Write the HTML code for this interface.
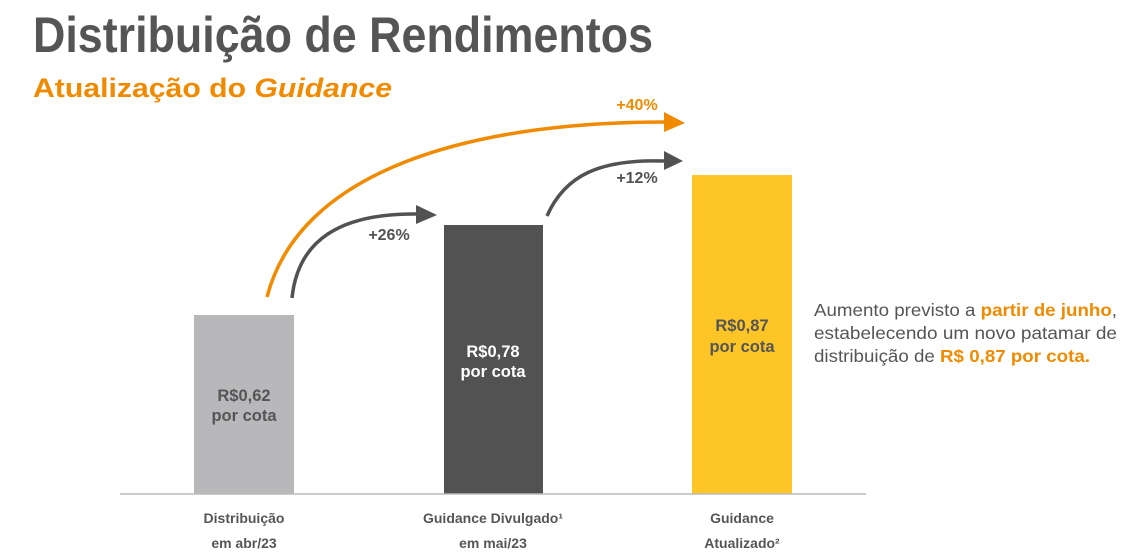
<!DOCTYPE html>
<html><head><meta charset="utf-8"><style>
html,body{margin:0;padding:0;background:#fff;width:1127px;height:560px;overflow:hidden}
svg{display:block;font-family:"Liberation Sans",Arial,sans-serif}
</style></head><body>
<svg width="1127" height="560" viewBox="0 0 1127 560">
<text x="33" y="52" font-size="50" font-weight="bold" fill="#555" textLength="620" lengthAdjust="spacingAndGlyphs">Distribuição de Rendimentos</text>
<text x="33" y="97" font-size="27" font-weight="bold" fill="#f08a00" textLength="359" lengthAdjust="spacingAndGlyphs">Atualização do <tspan font-style="italic">Guidance</tspan></text>
<rect x="194" y="315" width="100" height="179" fill="#b8b8bb"/>
<rect x="444" y="225" width="99" height="269" fill="#525252"/>
<rect x="692" y="175" width="100" height="319" fill="#fec526"/>
<line x1="120" y1="494" x2="866" y2="494" stroke="#bbb" stroke-width="1.5"/>
<g font-size="16.5" font-weight="bold" text-anchor="middle">
<text x="244" y="401" fill="#555">R$0,62</text>
<text x="244" y="421" fill="#555">por cota</text>
<text x="493" y="357" fill="#fff">R$0,78</text>
<text x="493" y="377" fill="#fff">por cota</text>
<text x="742" y="331" fill="#555">R$0,87</text>
<text x="742" y="352" fill="#555">por cota</text>
</g>
<path d="M267,297 C300,170 470,122 665,122" fill="none" stroke="#f08a00" stroke-width="3.5"/>
<polygon points="664,112 685,123 664,132" fill="#f08a00"/>
<path d="M292,298 C298,240 340,213 418,214" fill="none" stroke="#525252" stroke-width="3.5"/>
<polygon points="416,205 437,215 416,224" fill="#525252"/>
<path d="M547,216 C565,175 600,159 664,161" fill="none" stroke="#525252" stroke-width="3.5"/>
<polygon points="664,151 683,161 664,170" fill="#525252"/>
<g font-size="16" font-weight="bold" text-anchor="middle">
<text x="637" y="110" fill="#f08a00">+40%</text>
<text x="637" y="183" fill="#525252">+12%</text>
<text x="389" y="240" fill="#525252">+26%</text>
</g>
<g font-size="14" font-weight="bold" fill="#555" text-anchor="middle">
<text x="244" y="523">Distribuição</text>
<text x="244" y="548">em abr/23</text>
<text x="493" y="523">Guidance Divulgado¹</text>
<text x="493" y="548">em mai/23</text>
<text x="742" y="523">Guidance</text>
<text x="742" y="548">Atualizado²</text>
</g>
<g font-size="17.5" fill="#555">
<text x="814" y="316" textLength="303" lengthAdjust="spacingAndGlyphs">Aumento previsto a <tspan fill="#f08a00" font-weight="bold">partir de junho</tspan>,</text>
<text x="814" y="339" textLength="303" lengthAdjust="spacingAndGlyphs">estabelecendo um novo patamar de</text>
<text x="814" y="362" textLength="276" lengthAdjust="spacingAndGlyphs">distribuição de <tspan fill="#f08a00" font-weight="bold">R$ 0,87 por cota.</tspan></text>
</g>
</svg>
</body></html>
